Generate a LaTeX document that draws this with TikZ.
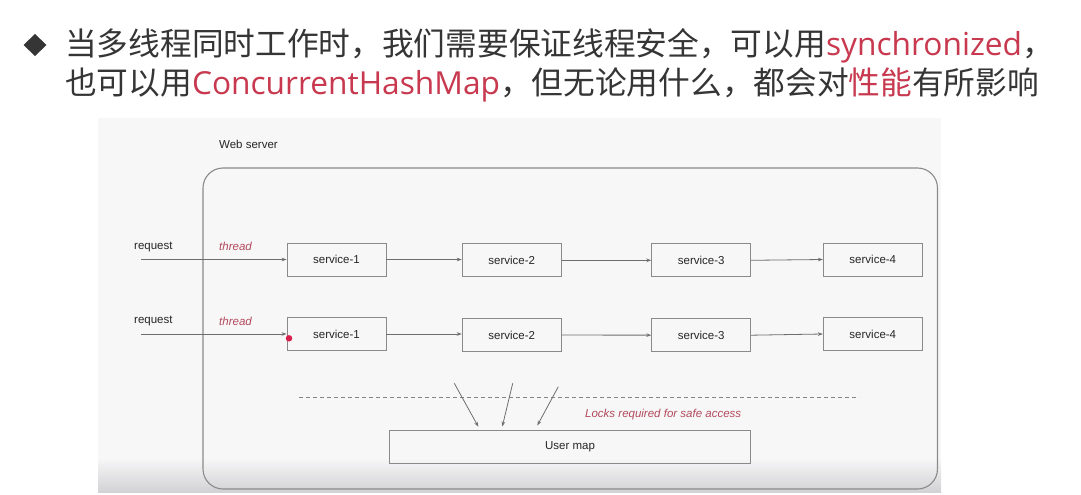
\documentclass[tikz,border=0pt]{standalone}
\usepackage{fontspec}
\setmainfont{Liberation Sans}
\newfontfamily\cjk{Noto Sans CJK SC}
\newfontfamily\lat{Open Sans}
\usetikzlibrary{arrows.meta}
\definecolor{titlegray}{HTML}{353535}
\definecolor{titlered}{HTML}{C8394F}
\definecolor{shotbg}{HTML}{F7F7F8}
\definecolor{shadegray}{HTML}{D2D2D4}
\definecolor{linegray}{HTML}{6E6E6E}
\definecolor{boxgray}{HTML}{8A8A8A}
\definecolor{labelred}{HTML}{B24A5C}
\definecolor{dotred}{HTML}{D81E4A}
\tikzset{
  svc/.style={draw=boxgray, line width=0.9pt, minimum width=99pt, minimum height=33pt,
    inner sep=0pt, font=\fontsize{11.5}{13}\selectfont, text=black!85},
  lbl/.style={inner sep=0pt, font=\fontsize{11.5}{13}\selectfont, text=black!85},
  redlbl/.style={inner sep=0pt, font=\fontsize{11.5}{13}\selectfont\itshape, text=labelred},
  conn/.style={draw=linegray, line width=0.8pt, -{Stealth[length=5pt,width=3.6pt]}},
  titletext/.style={anchor=base west, inner sep=0pt, font=\cjk\fontsize{31.7}{38}\selectfont, text=titlegray}
}
\begin{document}
\begin{tikzpicture}[x=1pt,y=-1pt]
\useasboundingbox (0,0) rectangle (1081,495);
\fill[white] (0,0) rectangle (1081,495);
% screenshot background
\fill[shotbg] (98,118) rectangle (941,492);
\shade[top color=shotbg, bottom color=shadegray] (98,458) rectangle (941,492);
% title
\fill[titlegray] (35,34) -- (46.5,45) -- (35,56) -- (23.5,45) -- cycle;
\node[titletext] (t1) at (65,56) {当多线程同时工作时，我们需要保证线程安全，可以用{\lat\color{titlered}synchronized}，};
\node[titletext] (t2) at (65,94) {也可以用{\lat\color{titlered}ConcurrentHashMap}，但无论用什么，都会对{\color{titlered}性能}有所影响};
% web server frame
\node[lbl, anchor=west] (web) at (219,144.5) {Web server};
\node[draw=boxgray, line width=1.1pt, rounded corners=20pt, minimum width=734.5pt, minimum height=321pt, inner sep=0pt] (srv) at (570.25,328.5) {};
% row 1
\node[lbl, anchor=west] (rq1) at (134,246.7) {request};
\node[redlbl, anchor=west] (th1) at (219,246.7) {thread};
\node[svc] (a1) at (336.5,259.5) {service-1};
\node[svc] (a2) at (511.7,260.3) {service-2};
\node[svc] (a3) at (701.2,260.3) {service-3};
\node[svc] (a4) at (872.8,259.5) {service-4};
\coordinate (r1) at (141,259.5);
\draw[conn] (r1) -- (a1);
\draw[conn] (a1.east) -- (a2.west |- a1.east);
\draw[conn] (a2) -- (a3);
\draw[conn] (a3.east) -- (a4.west);
% row 2
\node[lbl, anchor=west] (rq2) at (134,321) {request};
\node[redlbl, anchor=west] (th2) at (219,321) {thread};
\node[svc] (b1) at (336.5,334) {service-1};
\node[svc] (b2) at (511.7,335) {service-2};
\node[svc] (b3) at (701.2,335.2) {service-3};
\node[svc] (b4) at (872.8,334) {service-4};
\coordinate (r2) at (141,334);
\draw[conn] (r2) -- (b1);
\draw[conn] (b1.east) -- (b2.west |- b1.east);
\draw[conn] (b2) -- (b3);
\draw[conn] (b3.east) -- (b4.west);
\node[circle, fill=dotred, inner sep=0pt, minimum size=6.5pt] (dot) at (289,338.3) {};
% lock line
\coordinate (d1) at (299,397.7);
\coordinate (d2) at (859,397.7);
\draw[linegray!85, line width=0.8pt, dash pattern=on 4pt off 3pt] (d1) -- (d2);
\node[redlbl, anchor=west] (locks) at (585,415) {Locks required for safe access};
% user map
\node[svc, minimum width=361.4pt] (um) at (570,446.8) {User map};
\coordinate (p1s) at (454.3,383.3);
\coordinate (p1e) at (478.3,426.7);
\coordinate (p2s) at (512.7,383.3);
\coordinate (p2e) at (502.3,426.5);
\coordinate (p3s) at (558.3,386.7);
\coordinate (p3e) at (537.3,425.5);
\draw[conn] (p1s) -- (p1e);
\draw[conn] (p2s) -- (p2e);
\draw[conn] (p3s) -- (p3e);
\end{tikzpicture}
\end{document}
